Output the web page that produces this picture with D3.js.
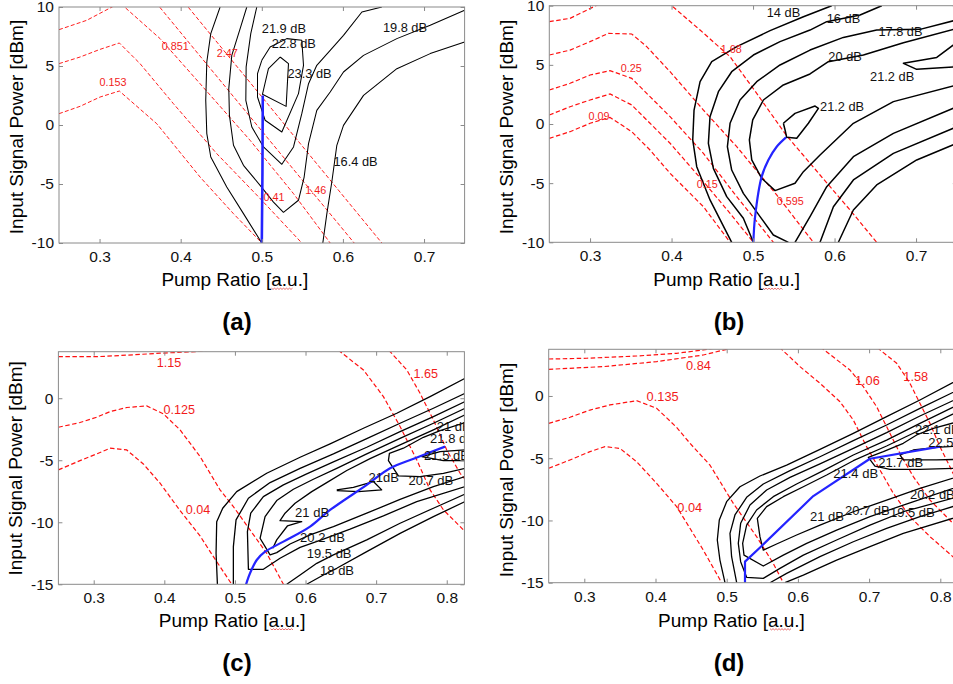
<!DOCTYPE html>
<html><head><meta charset="utf-8">
<script src="https://cdn.jsdelivr.net/npm/d3@7"></script>
<style>
html,body{margin:0;padding:0;background:#fff;overflow:hidden;}
svg{display:block;}
text{font-family:"Liberation Sans",Arial,Helvetica,sans-serif;}
</style></head><body>
<svg id="fig" width="953" height="684"></svg>
<script>
// ---------------- tick values ----------------
const xTicksAB = [0.3, 0.4, 0.5, 0.6, 0.7];
const yTicksAB = [-10, -5, 0, 5, 10];
const xTicksCD = [0.3, 0.4, 0.5, 0.6, 0.7, 0.8];
const yTicksCD = [-15, -10, -5, 0];
const panelNames = ["(a)", "(b)", "(c)", "(d)"];
const xTitle = "Pump Ratio [a.u.]";
const yTitle = "Input Signal Power [dBm]";

// ---------------- panel (a) ----------------
const gainA = [
  [[0.4486,10],[0.4371,7.74],[0.4322,5.34],[0.4309,2.09],[0.4322,-0.73],[0.4371,-2.71],[0.4568,-5.25],[0.4774,-7.51],[0.5,-10]],
  [[0.4815,10],[0.4733,8.16],[0.463,5.90],[0.4593,3.08],[0.4601,0.82],[0.4651,-1.72],[0.4774,-3.42],[0.4979,-5.11],[0.5144,-6.53],[0.5267,-7.40],[0.5452,-6.38],[0.5522,-4.41],[0.5576,-1.58],[0.5678,1.24],[0.5843,2.80],[0.6007,4.49],[0.6254,5.90],[0.6665,7.32],[0.7076,8.45],[0.75,9.72]],
  [[0.4938,10],[0.4864,7.74],[0.4807,4.92],[0.4803,2.09],[0.4877,-0.17],[0.5021,-1.86],[0.5247,-3.33],[0.5391,-1.86],[0.5493,0.96],[0.5576,3.50],[0.5678,5.06],[0.5843,6.33],[0.6007,7.60],[0.6234,9.58],[0.648,10]],
  [[0.5,5.48],[0.5103,6.61],[0.5308,7.32],[0.5493,7.18],[0.5514,5.06],[0.5452,2.66],[0.5247,-0.59],[0.5041,0.40],[0.4947,2.37],[0.4947,4.35],[0.5,5.48]],
  [[0.5226,5.76],[0.5329,5.2],[0.53,1.58],[0.5008,2.60],[0.5082,4.77],[0.5226,5.76]],
  [[0.5752,-10],[0.5802,-7.51],[0.5863,-4.83],[0.5925,-1.72],[0.6007,-0.03],[0.6254,2.51],[0.6665,4.77],[0.7076,6.05],[0.75,7.03]]
];
const lossA = [
  [[0.25,0.96],[0.2759,1.58],[0.3006,2.37],[0.3244,2.88],[0.3705,0.11],[0.4239,-4.41],[0.465,-7.51],[0.5,-10]],
  [[0.25,5.2],[0.2759,5.76],[0.3006,6.41],[0.3244,6.95],[0.3499,5.2],[0.391,1.81],[0.4445,-2.43],[0.5,-6.38],[0.5493,-10]],
  [[0.25,8.08],[0.2841,8.87],[0.325,10.35],[0.3746,7.32],[0.4239,3.50],[0.4856,-1.30],[0.5391,-5.82],[0.5843,-10]],
  [[0.35,12],[0.6139,-10]],
  [[0.39,11.6],[0.648,-10]]
];
const optimumA = [[0.5,-10],[0.5008,-4],[0.5012,2.5]];
const gainLabelsA = [
  ["21.9 dB",0.5,8.16],["22.8 dB",0.5123,6.95],["23.3 dB",0.5317,4.41],["19.8 dB",0.6493,8.31],["16.4 dB",0.5884,-3.08]
];
const lossLabelsA = [
  ["0.851",0.3766,6.67],["2.47",0.4445,6.05],["0.153",0.2998,3.64],["0.41",0.5021,-6.10],["1.46",0.5535,-5.48]
];

// ---------------- panel (b) ----------------
const gainB = [
  [[0.5965,10],[0.5618,9.07],[0.5209,7.89],[0.48,6.54],[0.4493,5.27],[0.435,3.58],[0.4276,1.18],[0.426,-1.35],[0.4309,-3.61],[0.4472,-6.42],[0.4738,-10]],
  [[0.6579,10],[0.6313,9.21],[0.5904,8.65],[0.5699,7.94],[0.5331,6.96],[0.5004,5.83],[0.4738,4.42],[0.4575,2.73],[0.4472,0.62],[0.4452,-1.63],[0.4513,-3.75],[0.4677,-6.14],[0.4881,-7.97],[0.5004,-10]],
  [[0.75,8.8],[0.7049,8.0],[0.6517,7.94],[0.6108,7.32],[0.5699,6.25],[0.5331,4.99],[0.5045,3.58],[0.484,2.03],[0.4718,0.06],[0.4685,-1.92],[0.4738,-3.89],[0.4881,-5.86],[0.5086,-7.83],[0.5249,-9.38],[0.5434,-10]],
  [[0.75,8.08],[0.6845,6.87],[0.6354,5.83],[0.5924,5.27],[0.5699,4.23],[0.5372,3.30],[0.5127,2.03],[0.4996,0.34],[0.4955,-1.35],[0.4984,-3.04],[0.5106,-4.59],[0.527,-5.63],[0.5515,-5.01],[0.5618,-4.03],[0.5822,-2.62],[0.6231,0.06],[0.6722,1.89],[0.75,3.30]],
  [[0.5372,0.06],[0.5515,0.90],[0.5761,1.52],[0.5802,1.32],[0.5679,0.06],[0.5536,-1.21],[0.5413,-1.13],[0.5393,-0.51],[0.5372,0.06]],
  [[0.75,6.9],[0.7254,5.63],[0.6845,5.13],[0.7008,4.62],[0.75,4.85]],
  [[0.5515,-10],[0.5699,-7.83],[0.5904,-5.30],[0.6231,-2.76],[0.6722,-0.79],[0.75,1.46]],
  [[0.5822,-10],[0.5986,-6.99],[0.6231,-4.73],[0.6722,-2.48],[0.75,-0.23]],
  [[0.6047,-10],[0.6231,-7.27],[0.6517,-5.15],[0.7008,-3.04],[0.75,-1.63]]
];
const lossB = [
  [[0.25,8.65],[0.2755,8.93],[0.325,10.6]],
  [[0.25,5.83],[0.2755,6.25],[0.3,6.96],[0.3225,7.66],[0.3511,7.61],[0.3695,6.54],[0.3982,4.42],[0.4391,1.18],[0.48,-1.92],[0.529,-6.0],[0.574,-10]],
  [[0.25,2.87],[0.2755,3.44],[0.3,4.14],[0.3245,4.51],[0.3511,3.86],[0.3736,2.31],[0.3982,0.62],[0.4391,-2.48],[0.48,-6.14],[0.525,-10]],
  [[0.25,0.76],[0.2755,1.46],[0.3,2.03],[0.3245,2.54],[0.3511,1.61],[0.3736,0.06],[0.3982,-1.63],[0.4391,-4.87],[0.4718,-7.55],[0.5004,-10]],
  [[0.25,-1.21],[0.2755,-0.65],[0.3,0.06],[0.3245,0.56],[0.3511,-0.65],[0.3736,-2.2],[0.3982,-4.17],[0.4391,-6.99],[0.4718,-10]],
  [[0.39,10.8],[0.4002,10],[0.435,7.94],[0.4718,5.69],[0.5045,2.59],[0.5405,-0.93],[0.5822,-4.31],[0.619,-7.27],[0.6517,-10]]
];
const optimumB = [[0.5004,-10],[0.5025,-7.83],[0.5106,-4.45],[0.5188,-3.04],[0.529,-1.92],[0.5405,-1.13]];
const gainLabelsB = [
  ["14 dB",0.5168,9.41],["16 dB",0.5904,8.93],["17.8 dB",0.6538,7.80],["20 dB",0.5924,5.75],["21.2 dB",0.6436,4.06],["21.2 dB",0.5822,1.46]
];
const lossLabelsB = [
  ["1.68",0.4603,6.34],["0.25",0.3376,4.76],["0.09",0.298,0.70],["0.15",0.4309,-5.1],["0.595",0.529,-6.48]
];

// ---------------- panel (c) ----------------
const gainC = [
  [[0.4752,-15],[0.4733,-12.5],[0.4742,-9.95],[0.4827,-8.87],[0.5025,-7.53],[0.545,-6.05],[0.5923,-4.76],[0.6348,-3.68],[0.682,-2.42],[0.7292,-1.21],[0.7764,0.13],[0.826,1.61]],
  [[0.4978,-15],[0.4978,-11.96],[0.5016,-9.81],[0.5191,-8.06],[0.5498,-6.80],[0.5923,-5.65],[0.6395,-4.49],[0.6867,-3.25],[0.7339,-2.02],[0.7811,-0.81],[0.826,0.40]],
  [[0.826,-0.27],[0.7811,-1.48],[0.7339,-2.69],[0.6867,-3.95],[0.6395,-5.13],[0.6017,-6.10],[0.5687,-6.99],[0.5403,-7.93],[0.5224,-9.27],[0.5177,-10.75],[0.5191,-13.79],[0.5403,-13.79],[0.5639,-12.90],[0.5923,-12.02],[0.6244,-11.37],[0.6631,-10.56],[0.7103,-9.49],[0.7575,-8.33],[0.826,-7.12]],
  [[0.826,-0.81],[0.7811,-2.02],[0.7339,-3.23],[0.6867,-4.49],[0.6442,-5.65],[0.6111,-6.53],[0.5828,-7.34],[0.5592,-8.25],[0.5427,-9.54],[0.5356,-11.29],[0.5498,-12.63],[0.5592,-12.45],[0.5781,-11.75],[0.6064,-11.02],[0.6395,-10.35],[0.6867,-9.27],[0.7339,-8.15],[0.7811,-7.12],[0.826,-6.32]],
  [[0.826,-1.34],[0.7811,-2.55],[0.7339,-3.76],[0.6914,-4.87],[0.6584,-5.83],[0.63,-6.80],[0.6088,-7.53],[0.5852,-8.47],[0.571,-9.27],[0.5639,-9.87],[0.5946,-9.95],[0.5743,-10.30],[0.5592,-11.42],[0.5536,-12.10]],
  [[0.5734,-15],[0.5923,-14.25],[0.6159,-13.31],[0.6395,-12.63],[0.6867,-11.42],[0.7339,-10.08],[0.7811,-8.87],[0.826,-7.72]],
  [[0.6017,-15],[0.6253,-14.25],[0.6442,-13.71],[0.6867,-12.37],[0.7339,-10.89],[0.7811,-9.54],[0.826,-8.33]],
  [[0.826,-1.96],[0.7906,-2.61],[0.7669,-3.15],[0.7386,-4.03],[0.7188,-4.44],[0.7174,-5.03],[0.7315,-6.26],[0.7622,-6.32],[0.7953,-6.05],[0.826,-5.65]],
  [[0.826,-4.17],[0.7906,-4.30],[0.7646,-4.70],[0.7953,-5.03],[0.826,-5.03]],
  [[0.6442,-7.39],[0.6678,-7.18],[0.6961,-6.72],[0.7079,-7.39],[0.6749,-7.53],[0.6442,-7.45]]
];
const lossC = [
  [[0.25,3.36],[0.309,3.36],[0.356,3.5],[0.394,3.63],[0.446,3.76],[0.47,3.9]],
  [[0.25,-2.34],[0.2806,-1.96],[0.3042,-1.53],[0.3231,-1.08],[0.3467,-0.75],[0.3751,-0.62],[0.3987,-1.26],[0.4223,-2.55],[0.4506,-4.70],[0.4789,-7.39],[0.4978,-8.74],[0.5214,-10.62],[0.545,-12.5],[0.5687,-15]],
  [[0.25,-5.78],[0.2806,-5.03],[0.3042,-4.49],[0.3231,-4.03],[0.3467,-4.17],[0.3703,-5.30],[0.394,-6.85],[0.4223,-9.06],[0.4506,-11.10],[0.4695,-12.77],[0.4955,-15]],
  [[0.64,4.3],[0.6489,3.76],[0.682,2.28],[0.7103,0.13],[0.7339,-2.28],[0.7575,-4.97],[0.7764,-7.39],[0.7953,-9.0],[0.826,-10.75],[0.84,-11.6]],
  [[0.712,4.3],[0.7197,3.76],[0.7434,2.28],[0.7622,0.4],[0.7811,-1.75],[0.8,-4.17],[0.8189,-6.05],[0.84,-7.5]]
];
const optimumC = [[0.5158,-15],[0.5214,-14.11],[0.5309,-13.04],[0.5427,-12.37],[0.5687,-11.56],[0.6064,-10.35],[0.6348,-9.01],[0.6867,-6.99],[0.7197,-5.65],[0.7551,-4.84],[0.7976,-3.90]];
const gainLabelsC = [
  ["21 dB",0.5852,-9.19],["20.2 dB",0.5923,-11.21],["19.5 dB",0.6017,-12.5],["18 dB",0.6206,-13.84],
  ["21dB",0.6891,-6.37],["20.7 dB",0.7457,-6.64],["21 dB",0.7858,-2.23],["21.8 dB",0.7764,-3.23],["21.5 dB",0.7679,-4.57]
];
const lossLabelsC = [
  ["1.15",0.3892,2.88],["0.125",0.3987,-0.89],["0.04",0.4303,-9.0],["1.65",0.7528,1.96]
];

// ---------------- panel (d) ----------------
const gainD = [
  [[0.8248,1.29],[0.7714,-0.32],[0.7246,-1.66],[0.6778,-3.0],[0.631,-4.29],[0.5842,-5.55],[0.5467,-6.43],[0.5186,-7.29],[0.4999,-8.49],[0.4896,-9.97],[0.4868,-11.57],[0.4905,-13.18],[0.4976,-15]],
  [[0.8248,0.48],[0.7714,-0.99],[0.7246,-2.33],[0.6778,-3.59],[0.631,-4.88],[0.5889,-6.0],[0.5514,-7.07],[0.528,-8.14],[0.5116,-9.56],[0.5046,-11.04],[0.5069,-12.91],[0.514,-15]],
  [[0.8248,-0.19],[0.7714,-1.61],[0.7246,-2.95],[0.6778,-4.21],[0.631,-5.46],[0.5889,-6.54],[0.5561,-7.55],[0.5327,-8.76],[0.5196,-10.23],[0.5163,-11.84],[0.5196,-13.31],[0.528,-14.57],[0.5514,-14.65],[0.5748,-13.85],[0.6076,-12.78],[0.6544,-11.57],[0.7012,-10.37],[0.748,-9.30],[0.8248,-8.09]],
  [[0.8248,-0.72],[0.7714,-2.20],[0.7246,-3.54],[0.6778,-4.74],[0.6357,-6.0],[0.5982,-7.07],[0.5654,-8.09],[0.542,-9.16],[0.528,-10.37],[0.5224,-11.84],[0.5243,-12.78],[0.5514,-13.66],[0.5795,-12.78],[0.6123,-11.84],[0.6544,-10.77],[0.7012,-9.70],[0.748,-8.76],[0.8248,-7.29]],
  [[0.8248,-1.26],[0.7714,-2.73],[0.7246,-4.02],[0.6778,-5.20],[0.6404,-6.35],[0.6076,-7.29],[0.5795,-8.09],[0.5561,-8.89],[0.543,-9.83],[0.5467,-11.30],[0.5514,-12.38],[0.5701,-11.89],[0.5982,-11.17],[0.631,-10.37],[0.6778,-9.30],[0.7246,-8.36],[0.7714,-7.42],[0.8248,-6.48]],
  [[0.5608,-15],[0.5842,-14.25],[0.631,-12.91],[0.6778,-11.71],[0.7246,-10.63],[0.7714,-9.70],[0.8248,-8.76]],
  [[0.5818,-15],[0.6076,-14.39],[0.6544,-13.18],[0.7012,-12.11],[0.748,-11.04],[0.8248,-9.70]],
  [[0.8248,-2.06],[0.7902,-2.60],[0.7668,-3.13],[0.748,-3.80],[0.72,-4.47],[0.6989,-4.93],[0.7082,-5.63],[0.7293,-5.89],[0.7714,-5.89],[0.8248,-5.81]],
  [[0.8248,-4.02],[0.7949,-4.13],[0.7621,-4.34],[0.7433,-4.74],[0.748,-5.14],[0.7949,-5.14],[0.8248,-5.09]]
];
const lossD = [
  [[0.25,2.97],[0.3033,3.03],[0.3735,3.21],[0.4297,3.43],[0.4671,3.70],[0.49,3.9]],
  [[0.25,2.14],[0.3267,2.36],[0.4016,2.76],[0.4671,3.29],[0.4999,3.75],[0.51,3.95]],
  [[0.25,-2.20],[0.2799,-1.71],[0.308,-1.13],[0.336,-0.72],[0.3735,-0.38],[0.4016,-0.99],[0.4297,-2.52],[0.4484,-3.80],[0.4765,-5.55],[0.5093,-8.63],[0.542,-11.30],[0.5654,-13.45],[0.5795,-15]],
  [[0.25,-5.81],[0.2799,-5.14],[0.308,-4.47],[0.329,-4.07],[0.3501,-4.21],[0.3735,-5.28],[0.4016,-7.02],[0.4297,-8.89],[0.4484,-10.63],[0.4671,-12.38],[0.4929,-15]],
  [[0.567,4.3],[0.5772,3.75],[0.6029,2.36],[0.631,1.02],[0.6591,-0.46],[0.6778,-1.93],[0.6965,-4.07],[0.7153,-5.95],[0.734,-7.82],[0.7574,-9.70],[0.7855,-11.30],[0.8178,-12.91],[0.84,-14]],
  [[0.624,4.3],[0.6357,3.75],[0.6731,2.09],[0.6919,0.75],[0.7106,-0.86],[0.7246,-2.46],[0.7433,-4.61],[0.7621,-6.48],[0.7855,-8.36],[0.8178,-10.23],[0.84,-11]],
  [[0.705,4.3],[0.7153,3.70],[0.7387,2.63],[0.7574,1.02],[0.7714,-0.59],[0.7855,-2.20],[0.7995,-4.07],[0.8112,-5.41],[0.8178,-6.21],[0.84,-8.5]]
];
const optimumD = [[0.5257,-15],[0.5257,-13.31],[0.5491,-12.05],[0.6216,-8.04],[0.7012,-5.04],[0.7995,-4.07]];
const gainLabelsD = [
  ["22.1 dB",0.7644,-2.68],["22.5 dB",0.7831,-3.75],["21.7 dB",0.7129,-5.36],["21.4 dB",0.6497,-6.21],
  ["20.2 dB",0.7574,-7.90],["21 dB",0.617,-9.70],["20.7 dB",0.6661,-9.21],["19.5 dB",0.7293,-9.38]
];
const lossLabelsD = [
  ["0.84",0.4428,2.49],["0.135",0.3875,-0.05],["0.04",0.4306,-8.97],["1.06",0.6801,1.23],["1.58",0.748,1.61]
];

// ---------------- drawing ----------------
const svg = d3.select("#fig");
const defs = svg.append("defs");

const panels = [
  {id:"a", x0:59, x1:464.6, y0:7, y1:243, xd:[0.25,0.75], yd:[-10,10], xt:xTicksAB, yt:yTicksAB,
   gain:gainA, loss:lossA, opt:optimumA, gl:gainLabelsA, ll:lossLabelsA, smooth:false,
   gw:1.05, bw:2.6, lw:0.95, dash:"4,2.2", gfs:12.8, lfs:10.8,
   xtX:234.8, xtY:286, ytX:23, ytY:127, nameX:237, nameY:330, sq:[271.5,293.5,288.5]},
  {id:"b", x0:549.3, x1:956.8, y0:5.7, y1:242.3, xd:[0.25,0.75], yd:[-10,10], xt:xTicksAB, yt:yTicksAB,
   gain:gainB, loss:lossB, opt:optimumB, gl:gainLabelsB, ll:lossLabelsB, smooth:true,
   gw:1.5, bw:2.2, lw:1.2, dash:"4.5,2.5", gfs:12.8, lfs:10.8,
   xtX:726.7, xtY:286, ytX:512.7, ytY:127, nameX:729, nameY:330, sq:[763,783,288.5]},
  {id:"c", x0:58.4, x1:464.4, y0:351.7, y1:584.3, xd:[0.25,0.825], yd:[-15,3.75], xt:xTicksCD, yt:yTicksCD,
   gain:gainC, loss:lossC, opt:optimumC, gl:gainLabelsC, ll:lossLabelsC, smooth:true,
   gw:1.3, bw:2.2, lw:1.2, dash:"4.5,2.5", gfs:13, lfs:12.6,
   xtX:232.2, xtY:626.5, ytX:22, ytY:468.3, nameX:237, nameY:670.5, sq:[270.5,293.5,629]},
  {id:"d", x0:548.7, x1:958.1, y0:349.3, y1:582.7, xd:[0.25,0.825], yd:[-15,3.75], xt:xTicksCD, yt:yTicksCD,
   gain:gainD, loss:lossD, opt:optimumD, gl:gainLabelsD, ll:lossLabelsD, smooth:false,
   gw:1.3, bw:2.2, lw:1.2, dash:"4.5,2.5", gfs:13, lfs:12.8,
   xtX:731.5, xtY:626.5, ytX:512.7, ytY:470, nameX:729, nameY:670.5, sq:[770,792,629]}
];

panels.forEach((p, i) => {
  const x = d3.scaleLinear().domain(p.xd).range([p.x0, p.x1]);
  const y = d3.scaleLinear().domain(p.yd).range([p.y1, p.y0]);
  const g = svg.append("g").attr("class", "panel-" + p.id);

  defs.append("clipPath").attr("id", "clip-" + p.id)
    .append("rect").attr("x", p.x0).attr("y", p.y0)
    .attr("width", p.x1 - p.x0).attr("height", p.y1 - p.y0);

  const plot = g.append("g").attr("clip-path", `url(#clip-${p.id})`);
  const line = d3.line().x(d => x(d[0])).y(d => y(d[1]));
  const smoothLine = d3.line().x(d => x(d[0])).y(d => y(d[1])).curve(d3.curveCatmullRom.alpha(0.5));

  plot.append("g").selectAll("path").data(p.loss).join("path")
    .attr("d", line).attr("fill", "none").attr("stroke", "#ff1010")
    .attr("stroke-width", p.lw).attr("stroke-dasharray", p.dash);

  plot.append("g").selectAll("path").data(p.gain).join("path")
    .attr("d", line).attr("fill", "none").attr("stroke", "#000")
    .attr("stroke-width", p.gw).attr("stroke-linejoin", "round");

  plot.append("path").datum(p.opt)
    .attr("d", p.smooth ? smoothLine : line).attr("fill", "none")
    .attr("stroke", "#2424ff").attr("stroke-width", p.bw).attr("stroke-linejoin", "round");

  plot.append("g").selectAll("text").data(p.gl).join("text")
    .attr("x", d => x(d[1])).attr("y", d => y(d[2])).attr("dy", "0.36em")
    .attr("font-size", p.gfs).attr("fill", "#111").text(d => d[0]);

  plot.append("g").selectAll("text").data(p.ll).join("text")
    .attr("x", d => x(d[1])).attr("y", d => y(d[2])).attr("dy", "0.36em")
    .attr("font-size", p.lfs).attr("fill", "#f21b1b").text(d => d[0]);

  // frame
  g.append("rect").attr("x", p.x0).attr("y", p.y0)
    .attr("width", p.x1 - p.x0).attr("height", p.y1 - p.y0)
    .attr("fill", "none").attr("stroke", "#8a8a8a").attr("stroke-width", 1);

  // axes (ticks inside, mirrored)
  const styleAxis = sel => {
    sel.select(".domain").remove();
    sel.selectAll(".tick line").attr("stroke", "#8a8a8a");
    sel.selectAll(".tick text").attr("font-family", '"Liberation Sans",Arial,sans-serif')
      .attr("font-size", 15.5).attr("fill", "#111");
  };
  g.append("g").attr("transform", `translate(0,${p.y1})`)
    .call(d3.axisBottom(x).tickValues(p.xt).tickSizeInner(-4).tickSizeOuter(0).tickPadding(8)
      .tickFormat(d3.format(".1f"))).call(styleAxis);
  g.append("g").attr("transform", `translate(0,${p.y0})`)
    .call(d3.axisTop(x).tickValues(p.xt).tickSizeInner(-4).tickSizeOuter(0).tickFormat(() => ""))
    .call(styleAxis);
  g.append("g").attr("transform", `translate(${p.x0},0)`)
    .call(d3.axisLeft(y).tickValues(p.yt).tickSizeInner(-4).tickSizeOuter(0).tickPadding(5)
      .tickFormat(d => String(d))).call(styleAxis);
  g.append("g").attr("transform", `translate(${p.x1},0)`)
    .call(d3.axisRight(y).tickValues(p.yt).tickSizeInner(-4).tickSizeOuter(0).tickFormat(() => ""))
    .call(styleAxis);

  // titles
  g.append("text").attr("x", p.xtX).attr("y", p.xtY).attr("text-anchor", "middle")
    .attr("font-size", 19).attr("fill", "#000").text(xTitle);
  // spell-check squiggle under "a.u."
  const [sx0, sx1, sy] = p.sq;
  const pts = d3.range(sx0, sx1 + 0.01, 1.5).map((v, k) => [v, sy + (k % 2 ? 0.9 : -0.3)]);
  g.append("path").attr("d", d3.line()(pts)).attr("fill", "none")
    .attr("stroke", "#e03030").attr("stroke-width", 0.7);

  g.append("text").attr("transform", `translate(${p.ytX},${p.ytY}) rotate(-90)`)
    .attr("text-anchor", "middle").attr("font-size", 19).attr("fill", "#000").text(yTitle);

  g.append("text").attr("x", p.nameX).attr("y", p.nameY).attr("text-anchor", "middle")
    .attr("font-family", '"Liberation Serif","Times New Roman",serif').attr("font-weight", "bold")
    .attr("font-size", 24).attr("fill", "#000").text(panelNames[i]);
});
</script>
</body></html>
